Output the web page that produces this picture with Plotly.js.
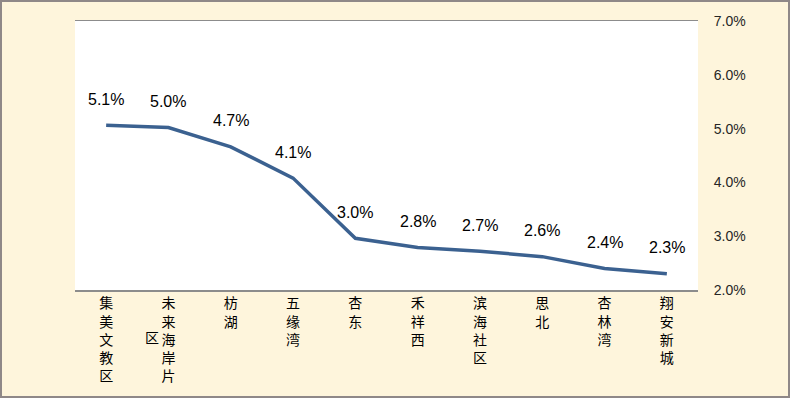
<!DOCTYPE html>
<html>
<head>
<meta charset="utf-8">
<script src="https://cdn.plot.ly/plotly-3.0.1.min.js"></script>
<style>
html,body{margin:0;padding:0;background:#FEF5DC;}
#wrap{position:relative;width:790px;height:398px;}
#chart{width:790px;height:398px;}
#frame{position:absolute;left:0;top:0;width:790px;height:398px;box-sizing:border-box;border:2px solid #8f8888;pointer-events:none;}
</style>
</head>
<body>
<div id="wrap"><div id="chart"></div><div id="frame"></div></div>
<script>
const categories = ["集美文教区", "未来海岸片", "枋湖", "五缘湾", "杏东", "禾祥西", "滨海社区", "思北", "杏林湾", "翔安新城"];
const values = [5.06, 5.02, 4.66, 4.08, 2.96, 2.79, 2.72, 2.62, 2.40, 2.30];
const yTickVals = [2, 3, 4, 5, 6, 7];
const yTickText = ["2.0%", "3.0%", "4.0%", "5.0%", "6.0%", "7.0%"];
const extraLabel = "区";

const vertical = s => s.split("").join("<br>");

const trace = {
  x: categories,
  y: values,
  type: "scatter",
  mode: "lines",
  line: {color: "#3B6190", width: 3.5},
  hoverinfo: "skip"
};

const annotations = categories.map((c, i) => ({
  x: c, y: values[i], xref: "x", yref: "y",
  text: values[i].toFixed(1) + "%",
  showarrow: false, yshift: 26,
  font: {family: "Liberation Sans, Arial, sans-serif", size: 16, color: "#000"}
}));
annotations.push({
  x: 0.74, y: -0.175, xref: "x", yref: "paper",
  xanchor: "center", yanchor: "middle",
  text: extraLabel, showarrow: false,
  font: {family: "Noto Sans CJK SC, sans-serif", size: 14, color: "#000"}
});

const layout = {
  width: 790, height: 398,
  margin: {l: 75, r: 92, t: 21, b: 108},
  paper_bgcolor: "#FEF5DC",
  plot_bgcolor: "#FFFFFF",
  showlegend: false,
  xaxis: {
    type: "category",
    tickvals: categories,
    ticktext: categories.map(vertical),
    tickfont: {family: "Noto Sans CJK SC, sans-serif", size: 14, color: "#000"},
    showline: true, linecolor: "#8c8c8c", linewidth: 1.5, mirror: true,
    showgrid: false, ticks: "", zeroline: false,
    range: [-0.5, 9.5]
  },
  yaxis: {
    side: "right",
    range: [2, 7],
    tickvals: yTickVals,
    ticktext: yTickText,
    tickfont: {family: "Liberation Sans, Arial, sans-serif", size: 14, color: "#262626"},
    showgrid: false, zeroline: false, showline: false,
    ticks: "outside", ticklen: 12, tickcolor: "rgba(0,0,0,0)"
  },
  annotations: annotations
};

Plotly.newPlot("chart", [trace], layout, {displayModeBar: false, staticPlot: true});
</script>
</body>
</html>
